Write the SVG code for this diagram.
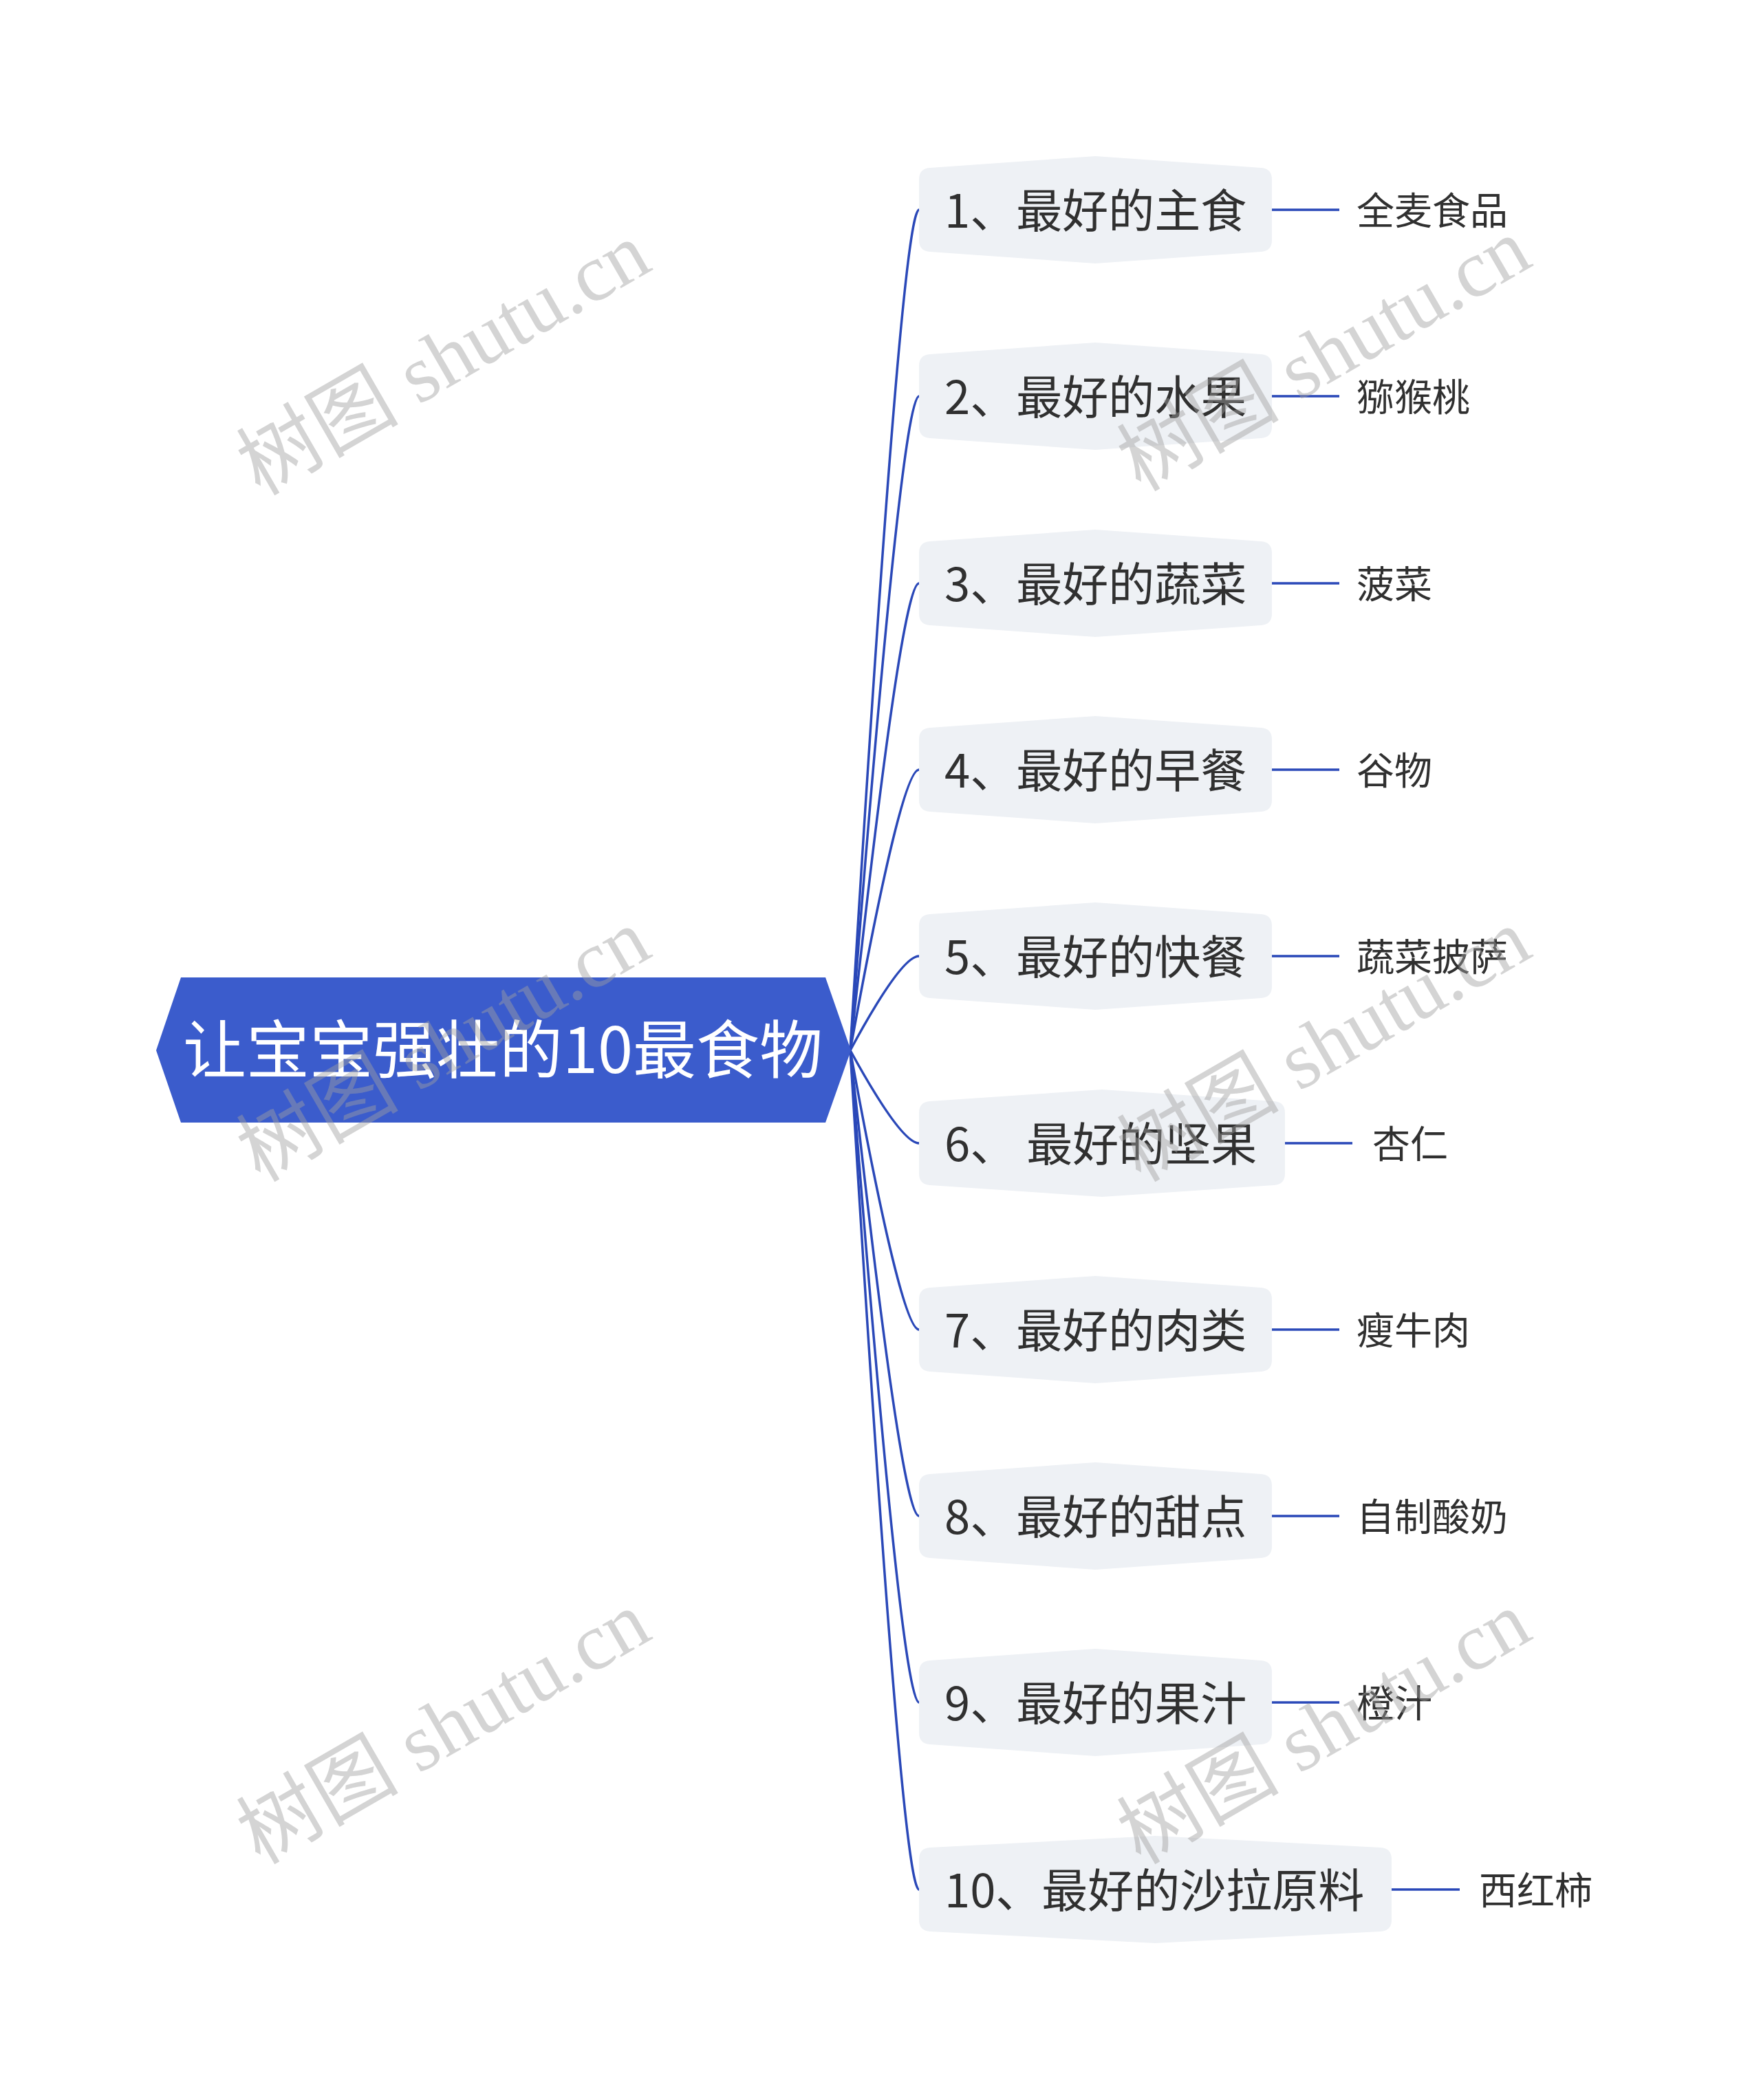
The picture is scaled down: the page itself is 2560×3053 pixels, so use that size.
<svg xmlns="http://www.w3.org/2000/svg" xmlns:xlink="http://www.w3.org/1999/xlink" width="2560" height="3053" viewBox="0 0 2560 3053">
<style>
.bt{font-family:"Noto Sans CJK SC","Noto Sans",sans-serif;font-size:67px;fill:#303030;dominant-baseline:central}
.lt{font-family:"Noto Sans CJK SC","Noto Sans",sans-serif;font-size:55px;fill:#303030;dominant-baseline:central}
.rt{font-family:"Noto Sans CJK SC","Noto Sans",sans-serif;font-size:92px;fill:#ffffff;dominant-baseline:central;text-anchor:middle}
.bg{fill:#eef1f5}
.cn{fill:none;stroke:#2a48b8;stroke-width:3.5}
.wm{font-family:"Liberation Serif","Noto Sans CJK SC",serif;font-size:118px;fill:#a0a0a0;fill-opacity:0.45;text-anchor:middle;dominant-baseline:central}
</style>
<defs>
<path id="s513" d="M0,-44 Q0,-60 16,-61 L256.5,-78 L497,-61 Q513,-60 513,-44 L513,44 Q513,60 497,61 L256.5,78 L16,61 Q0,60 0,44 Z"/>
<path id="s532" d="M0,-44 Q0,-60 16,-61 L266,-78 L516,-61 Q532,-60 532,-44 L532,44 Q532,60 516,61 L266,78 L16,61 Q0,60 0,44 Z"/>
<path id="s687" d="M0,-44 Q0,-60 16,-61 L343.5,-78 L671,-61 Q687,-60 687,-44 L687,44 Q687,60 671,61 L343.5,78 L16,61 Q0,60 0,44 Z"/>
</defs>
<rect width="2560" height="3053" fill="#ffffff"/>
<g id="connectors">
<path class="cn" d="M1236,1527 Q1310,305 1336,305"/>
<path class="cn" d="M1236,1527 Q1310,576 1336,576"/>
<path class="cn" d="M1236,1527 Q1310,848 1336,848"/>
<path class="cn" d="M1236,1527 Q1310,1119 1336,1119"/>
<path class="cn" d="M1236,1527 Q1310,1390 1336,1390"/>
<path class="cn" d="M1236,1527 Q1310,1662 1336,1662"/>
<path class="cn" d="M1236,1527 Q1310,1933 1336,1933"/>
<path class="cn" d="M1236,1527 Q1310,2204 1336,2204"/>
<path class="cn" d="M1236,1527 Q1310,2475 1336,2475"/>
<path class="cn" d="M1236,1527 Q1310,2747 1336,2747"/>
<path class="cn" d="M1849,305 H1947"/>
<path class="cn" d="M1849,576 H1947"/>
<path class="cn" d="M1849,848 H1947"/>
<path class="cn" d="M1849,1119 H1947"/>
<path class="cn" d="M1849,1390 H1947"/>
<path class="cn" d="M1868,1662 H1966"/>
<path class="cn" d="M1849,1933 H1947"/>
<path class="cn" d="M1849,2204 H1947"/>
<path class="cn" d="M1849,2475 H1947"/>
<path class="cn" d="M2023,2747 H2122"/>
</g>
<g id="root">
<polygon points="227,1527 263,1421 1200,1421 1237,1527 1200,1632 263,1632" fill="#3b5ccc"/>
<text class="rt" x="731" y="1519">让宝宝强壮的10最食物</text>
</g>
<g id="b1" transform="translate(1336,305)"><use xlink:href="#s513" class="bg"/><text class="bt" x="37" y="-4">1、最好的主食</text></g>
<g id="b2" transform="translate(1336,576)"><use xlink:href="#s513" class="bg"/><text class="bt" x="37" y="-4">2、最好的水果</text></g>
<g id="b3" transform="translate(1336,848)"><use xlink:href="#s513" class="bg"/><text class="bt" x="37" y="-4">3、最好的蔬菜</text></g>
<g id="b4" transform="translate(1336,1119)"><use xlink:href="#s513" class="bg"/><text class="bt" x="37" y="-4">4、最好的早餐</text></g>
<g id="b5" transform="translate(1336,1390)"><use xlink:href="#s513" class="bg"/><text class="bt" x="37" y="-4">5、最好的快餐</text></g>
<g id="b6" transform="translate(1336,1662)"><use xlink:href="#s532" class="bg"/><text class="bt" x="37" y="-4">6、 最好的坚果</text></g>
<g id="b7" transform="translate(1336,1933)"><use xlink:href="#s513" class="bg"/><text class="bt" x="37" y="-4">7、最好的肉类</text></g>
<g id="b8" transform="translate(1336,2204)"><use xlink:href="#s513" class="bg"/><text class="bt" x="37" y="-4">8、最好的甜点</text></g>
<g id="b9" transform="translate(1336,2475)"><use xlink:href="#s513" class="bg"/><text class="bt" x="37" y="-4">9、最好的果汁</text></g>
<g id="b10" transform="translate(1336,2747)"><use xlink:href="#s687" class="bg"/><text class="bt" x="37" y="-4">10、最好的沙拉原料</text></g>
<g id="l1"><text class="lt" x="1972" y="302">全麦食品</text></g>
<g id="l2"><text class="lt" x="1972" y="573">猕猴桃</text></g>
<g id="l3"><text class="lt" x="1972" y="845">菠菜</text></g>
<g id="l4"><text class="lt" x="1972" y="1116">谷物</text></g>
<g id="l5"><text class="lt" x="1972" y="1387">蔬菜披萨</text></g>
<g id="l6"><text class="lt" x="1995" y="1659">杏仁</text></g>
<g id="l7"><text class="lt" x="1972" y="1930">瘦牛肉</text></g>
<g id="l8"><text class="lt" x="1972" y="2201">自制酸奶</text></g>
<g id="l9"><text class="lt" x="1972" y="2472">橙汁</text></g>
<g id="l10"><text class="lt" x="2150" y="2744">西红柿</text></g>
<g id="watermarks">
<text class="wm" transform="translate(645,522) rotate(-30)">树图 shutu.cn</text>
<text class="wm" transform="translate(1925,516) rotate(-30)">树图 shutu.cn</text>
<text class="wm" transform="translate(645,1520) rotate(-30)">树图 shutu.cn</text>
<text class="wm" transform="translate(1925,1520) rotate(-30)">树图 shutu.cn</text>
<text class="wm" transform="translate(645,2512) rotate(-30)">树图 shutu.cn</text>
<text class="wm" transform="translate(1925,2512) rotate(-30)">树图 shutu.cn</text>
</g>
</svg>
